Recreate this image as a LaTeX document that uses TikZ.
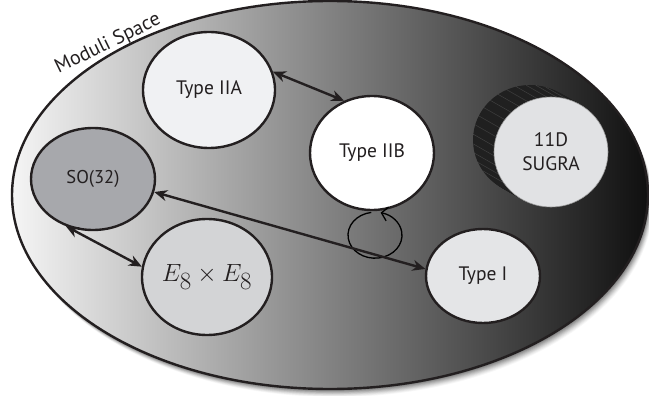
\documentclass[tikz,border=0pt]{standalone}
\usepackage{fontspec}
\setmainfont{PT Sans}
\usetikzlibrary{arrows.meta,shapes.geometric,calc}
\definecolor{ink}{HTML}{231F20}
\definecolor{fIIA}{HTML}{F0F1F3}
\definecolor{fSO}{HTML}{A7A8AC}
\definecolor{fE}{HTML}{D3D4D6}
\definecolor{fI}{HTML}{E4E5E7}
\definecolor{fSG}{HTML}{E1E2E4}
\definecolor{knob}{HTML}{202020}
\begin{document}
\begin{tikzpicture}[x=1pt,y=-1pt,
  bub/.style={ellipse, draw=ink, line width=2.4pt, text=ink, inner sep=0pt,
    font=\fontsize{19.5}{24}\selectfont, align=center},
  link/.style={draw=ink, line width=2.4pt,
    {Stealth[length=13pt,width=11pt]}-{Stealth[length=13pt,width=11pt]}},
  loopy/.style={draw=black, line width=1.3pt, -{Straight Barb[length=6pt,width=14pt]}},
]
\useasboundingbox (0,0) rectangle (649,396);
% drop shadow of the moduli space
\foreach \i/\o in {1/0.12,2/0.11,3/0.10,4/0.09,5/0.08,6/0.07,7/0.06,8/0.05,9/0.04,10/0.03}
  \fill[black,opacity=\o] ({330+\i*0.5},{195+\i*0.8}) ellipse [x radius=318, y radius=194];
% moduli space
\shade[left color=white!96!black, right color=black!94] (330,195) ellipse [x radius=318, y radius=194];
\draw[ink, line width=2.4pt] (330,195) ellipse [x radius=318, y radius=194];
\node[rotate=26, text=ink, font=\fontsize{20}{22}\selectfont, inner sep=0pt] (ms) at (108,44) {Moduli Space};
% 11D SUGRA knob
\coordinate (sgc) at (551,152);
\foreach \k in {0,...,20}
  \fill[knob] ($(sgc)+({-21+\k*21/20},{-12+\k*12/20})$) ellipse [x radius=57, y radius=55];
\foreach \a in {74,84,...,214}
  \draw[white, opacity=0.14, line width=0.5pt] ($(sgc)+({57*cos(\a)},{-55*sin(\a)})$) -- ++(-21,-12);
% nodes
\node[bub, fill=fIIA, minimum width=132pt, minimum height=116pt] (IIA) at (209,90) {Type IIA};
\node[bub, fill=white, minimum width=124pt, minimum height=114pt] (IIB) at (372,153) {Type IIB};
\node[bub, fill=fSO, minimum width=124pt, minimum height=102pt, font=\fontsize{18.5}{22}\selectfont] (SO) at (93,179) {SO(32)};
\node[bub, fill=fE, minimum width=130pt, minimum height=116pt, font=\fontsize{33}{36}\selectfont] (E8) at (207,277) {$E_8\times E_8$};
\node[bub, fill=fI, minimum width=114pt, minimum height=94pt] (TI) at (483,276) {Type I};
\node[bub, fill=fSG, draw=white!60!black, line width=0.6pt, minimum width=114pt, minimum height=110pt] (SG) at (sgc) {11D\\SUGRA};
% self loop of Type IIB
\coordinate (lc) at ($(IIB.south)+(3,24)$);
\draw[loopy] ($(lc)+({27*cos(262)},{23*sin(262)})$) arc[start angle=262, end angle=-78, x radius=27, y radius=23];
% dualities
\draw[link] (IIA.16) -- (IIB.118);
\draw[link] (SO.-12) -- (TI.173);
\draw[link] (SO.-120) -- (E8.171);
\end{tikzpicture}
\end{document}
